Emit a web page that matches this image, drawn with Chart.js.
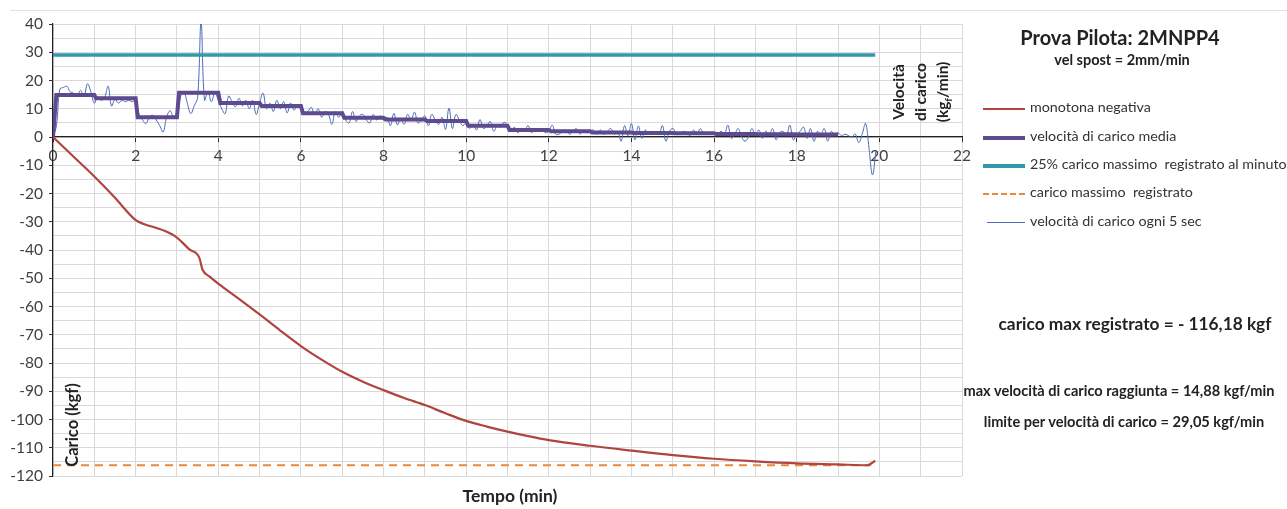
<!DOCTYPE html>
<html>
<head>
<meta charset="utf-8">
<script src="https://cdn.jsdelivr.net/npm/chart.js@4"></script>
<style>
  body { margin: 0; background: #fff; font-family: 'Lato', sans-serif; color: #222; }
  #wrap { position: relative; width: 1287px; height: 509px; overflow: hidden; }
  #wrap canvas { position: absolute; left: 0; top: 0; }
  .topline { position: absolute; left: 10px; right: 0; top: 10px; border-top: 1px solid #e2e2e2; }
  .txt { position: absolute; white-space: nowrap; font-weight: bold; }
  .rot { position: absolute; white-space: nowrap; font-weight: bold; transform: rotate(-90deg); transform-origin: center center; text-align: center; }
  .leg { position: absolute; left: 983px; font-size: 14.3px; color: #333; white-space: nowrap; height: 20px; }
  .leg .ln { position: absolute; left: 0; width: 42px; top: 10px; }
  .leg span { position: absolute; left: 47px; top: 0; }
</style>
</head>
<body>
<div id="wrap">
  <div class="topline"></div>
  <canvas id="grafico" width="1287" height="509"></canvas>

  <div class="txt" style="left:1010px; top:25px; font-size:20px; width:220px; text-align:center;">Prova Pilota: 2MNPP4</div>
  <div class="txt" style="left:1018px; top:51px; font-size:14.5px; width:208px; text-align:center;">vel spost = 2mm/min</div>

  <div class="leg" style="top:98px"><div class="ln" style="border-top:2px solid #B0443E"></div><span>monotona negativa</span></div>
  <div class="leg" style="top:127px"><div class="ln" style="border-top:4px solid #5E4A8E; top:9px"></div><span>velocità di carico media</span></div>
  <div class="leg" style="top:155px"><div class="ln" style="border-top:4px solid #3399AA; top:9px"></div><span>25% carico massimo&nbsp; registrato al minuto</span></div>
  <div class="leg" style="top:183px"><div class="ln" style="border-top:2px dashed #E8883A"></div><span>carico massimo&nbsp; registrato</span></div>
  <div class="leg" style="top:212px"><div class="ln" style="border-top:1px solid #4B6CB7; left:4px; width:38px"></div><span>velocità di carico ogni 5 sec</span></div>

  <div class="txt" style="left:985px; top:313px; font-size:17.3px; width:300px; text-align:center;">carico max registrato = - 116,18 kgf</div>
  <div class="txt" style="left:950px; top:382px; font-size:14.6px; width:338px; text-align:center;">max velocità di carico raggiunta = 14,88 kgf/min</div>
  <div class="txt" style="left:965px; top:413px; font-size:14.6px; width:318px; text-align:center;">limite per velocità di carico = 29,05 kgf/min</div>

  <div class="txt" style="left:430px; top:485px; font-size:17.5px; width:160px; text-align:center;">Tempo (min)</div>
  <div class="rot" style="left:20px; top:414px; width:104px; height:22px; font-size:16.5px; line-height:22px;">Carico (kgf)</div>
  <div class="rot" style="left:882px; top:58px; width:78px; height:68px; font-size:15.5px; line-height:22px;">Velocità<br>di carico<br>(kg<sub style="font-size:10px">f</sub>/min)</div>
</div>

<script>
// tempo in minuti
const tempoMonotona = [0, 0.5, 1, 1.5, 2, 2.2, 2.5, 2.7, 3, 3.3, 3.54, 3.62, 3.8, 4, 4.5, 5, 5.5, 6, 6.5, 7, 7.5, 8, 8.5, 9, 9.5, 10, 10.5, 11, 11.5, 12, 13, 14, 15, 16, 17, 18, 19, 19.7, 19.9]
const caricoMonotona = [0, -7, -14, -21.5, -29.4, -30.8, -32.2, -33.2, -35.6, -39.8, -42.7, -47, -49.5, -51.9, -57.3, -62.8, -68.5, -74, -78.8, -83.1, -86.6, -89.6, -92.4, -94.9, -97.8, -100.5, -102.5, -104.3, -105.9, -107.3, -109.3, -111, -112.6, -113.9, -114.8, -115.5, -115.9, -116.2, -114.6]

const tempoMedia = [0, 0.08, 1, 1.04, 2, 2.05, 3, 3.05, 4, 4.05, 5, 5.05, 6, 6.05, 7, 7.05, 8, 8.05, 9, 9.05, 10, 10.05, 11, 11.05, 12, 12.05, 13, 13.05, 14, 14.05, 15, 15.05, 16, 16.05, 17, 17.05, 18, 18.05, 19]
const velMedia = [0, 14.88, 14.88, 13.7, 13.7, 7.0, 7.0, 15.7, 15.7, 12.0, 12.0, 11.0, 11.0, 8.4, 8.4, 6.8, 6.8, 6.2, 6.2, 5.7, 5.7, 4.0, 4.0, 2.5, 2.5, 2.0, 2.0, 1.6, 1.6, 1.4, 1.4, 1.3, 1.3, 1.1, 1.1, 1.0, 1.0, 0.9, 0.9]

// un valore ogni 5 sec (12 per minuto)
const passo5sec = 5 / 60
const velOgni5sec = [
  0, 4, 17, 17.5, 18, 16, 15.5, 14.5, 16.5, 14.3, 18.8, 16,
  12, 14.3, 13, 14, 18, 11, 13.3, 12, 13, 12.5, 13, 12.5,
  13, 8, 6, 4.8, 7, 7.7, 6, 4, 1.8, 7, 9.3, 7,
  7, 14, 16, 12, 8.3, 11, 14, 40.5, 13, 16, 12.5, 15.5,
  13, 10, 8.3, 14.5, 12.5, 10.7, 13.7, 11, 13, 10, 13, 8,
  12, 15.5, 10, 12, 9, 13, 10, 12.5, 8.5, 12, 9.5, 11.5,
  11, 8.5, 9, 10.5, 8, 10, 7, 9, 8, 4.5, 9, 7,
  9, 6, 5, 9, 5.5, 7.5, 8, 6, 5, 8, 6, 7.5,
  6, 7, 4, 8.4, 4.3, 6.5, 4.5, 8, 6, 8.8, 5, 6,
  7.5, 4, 8, 6, 4.5, 7, 2.7, 10.2, 3, 8, 6, 4,
  5, 3, 4.5, 2.5, 6.2, 3, 4, 5.5, 2, 4, 3.5, 5.2,
  4, 2, 3.5, 1.5, 3, 2.5, 4, 1.5, 3, 2, 2.5, 1.5,
  2, 4.2, 1, 1, 2, 2.5, 1, 2, 3, 1, 2.5, 1.5,
  2, 2.5, 1, 2.5, 1, 2, 3, 1, 2, -1.5, 4, 0.5,
  4.8, -1, 3.9, -0.5, 2.5, 1, 2, 1.5, 1, 4, -1.5, 2,
  3, 1.5, 1, 2, 1.5, 0.5, 2.5, 1, 3, 1, 1, 1,
  1.5, 1, 2, 1, 4.2, -0.5, 1, 3, 0, -1.5, 0, 3,
  0.5, 2.5, -0.5, 2, 1, 3, -1, 1.5, 2, 0.5, 4.2, -1,
  1, 2, 3.5, -0.5, 3, -1.5, 2, 1, 3, -1.5, 2, 1,
  1.5, 0.5, 1, 0.5, 0, 1, -2, 1, 4.8, -4, -13.4, -5
]

const caricoMax = -116.18
const limiteVel = 29.05
const tempoLimite = [0, 19.9]
const tempoCaricoMax = [0, 19.8]

const xTicks = { min: 0, max: 22 }
const yTicks = { min: -120, max: 40 }

const punti = (xs, ys) => xs.map((t, i) => ({ x: t, y: ys[i] }))
const fontTick = { family: 'Lato', size: 15.5 }

new Chart(document.getElementById('grafico'), {
  type: 'line',
  data: {
    datasets: [
      {
        label: 'monotona negativa',
        data: punti(tempoMonotona, caricoMonotona),
        borderColor: '#B0443E', borderWidth: 2.2, pointRadius: 0,
        cubicInterpolationMode: 'monotone', order: 1
      },
      {
        label: 'velocità di carico media',
        data: punti(tempoMedia, velMedia),
        borderColor: '#5E4A8E', borderWidth: 4, pointRadius: 0, tension: 0, order: 3
      },
      {
        label: '25% carico massimo  registrato al minuto',
        data: punti(tempoLimite, [limiteVel, limiteVel]),
        borderColor: '#3399AA', borderWidth: 3.5, pointRadius: 0, order: 2
      },
      {
        label: 'carico massimo  registrato',
        data: punti(tempoCaricoMax, [caricoMax, caricoMax]),
        borderColor: '#E8883A', borderWidth: 2, borderDash: [8, 6], pointRadius: 0, order: 2
      },
      {
        label: 'velocità di carico ogni 5 sec',
        data: velOgni5sec.map((v, i) => ({ x: i * passo5sec, y: v })),
        borderColor: '#4B6CB7', borderWidth: 1, pointRadius: 0, tension: 0.4, order: 4
      }
    ]
  },
  options: {
    responsive: false,
    animation: false,
    layout: { padding: { left: 0, right: 325, top: 24, bottom: 33 } },
    plugins: { legend: { display: false }, tooltip: { enabled: false } },
    scales: {
      x: {
        type: 'linear',
        position: { y: 0 },
        min: xTicks.min, max: xTicks.max,
        ticks: {
          stepSize: 1, padding: 5, color: '#404040', font: fontTick,
          maxRotation: 0, autoSkip: false,
          callback: v => (v % 2 === 0 ? String(v) : '')
        },
        grid: {
          color: '#d9d9d9', tickLength: 5,
          tickColor: ctx => (ctx.tick && ctx.tick.value % 2 === 0 ? '#333' : 'rgba(0,0,0,0)')
        },
        border: { color: '#222', width: 1.2 }
      },
      y: {
        min: yTicks.min, max: yTicks.max,
        afterFit: s => { s.width = 53 },
        ticks: {
          stepSize: 5, padding: 6, color: '#404040', font: fontTick,
          autoSkip: false,
          callback: v => (v % 10 === 0 ? String(v) : '')
        },
        grid: {
          color: '#d9d9d9', tickLength: 4,
          tickColor: ctx => (ctx.tick && ctx.tick.value % 10 === 0 ? '#333' : 'rgba(0,0,0,0)')
        },
        border: { color: '#222', width: 1.2 }
      }
    }
  }
})
</script>
</body>
</html>
